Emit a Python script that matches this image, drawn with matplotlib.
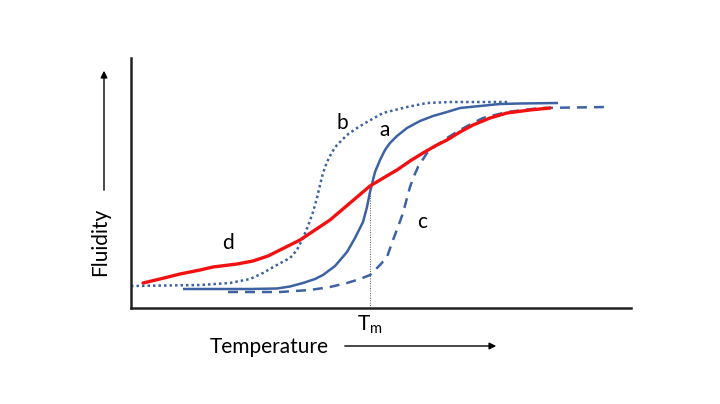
import matplotlib
matplotlib.use("Agg")
import matplotlib.pyplot as plt

plt.rcParams['font.family'] = ['Lato', 'DejaVu Sans']

# Arbitrary units: temperature 0..500, fluidity 0..250
a_x = [52, 119, 146, 159, 172, 184, 192, 204, 216, 224, 232, 236, 239, 241, 244, 249, 254, 259,
       266, 276, 289, 302, 316, 329, 349, 369, 389, 427]
a_y = [19, 19, 19.5, 21.5, 25, 29, 33, 42, 56, 70, 86, 101, 116, 124, 136, 148, 158, 165,
       172, 180, 187, 192, 196, 200, 202, 204, 204.5, 205]

b_x = [0, 69, 99, 119, 132, 144, 159, 166, 172, 177, 182, 186, 189, 192, 196, 201, 206, 216,
       226, 236, 252, 276, 296, 319, 379]
b_y = [22, 23, 25, 29, 35, 42, 50, 58, 70, 82, 96, 110, 123, 135, 146, 156, 163, 173,
       180, 186, 195, 201, 205, 206, 206]

c_x = [97, 149, 179, 199, 216, 229, 239, 249, 256, 262, 267, 272, 276, 279, 283, 287, 296, 306,
       316, 329, 342, 352, 376, 409, 476]
c_y = [16, 16, 18, 21, 25, 29, 33, 43, 51, 68, 81, 95, 110, 121, 132, 141, 155, 163,
       170, 178, 185, 190, 196, 200, 201]

d_x = [12, 29, 49, 69, 82, 106, 122, 137, 149, 169, 184, 199, 219, 239, 254, 266, 279, 292,
       304, 316, 329, 342, 359, 376, 399, 419]
d_y = [25, 29, 34, 38, 41, 44, 47, 52, 58, 68, 78, 88, 105, 122, 131, 138, 147, 155,
       162, 168, 176, 183, 190, 195, 198, 200]

tm_x = 239
tm_y = 124

labels = ['a', 'b', 'c', 'd']
label_pos = [(254, 178), (211, 185), (291, 86), (97, 65)]

blue = '#3d62a3'
red = '#f21010'

fig = plt.figure(figsize=(7.2, 4.04), dpi=100)
ax = fig.add_axes([131/720, 1-308/404, 500/720, 250/404])
ax.set_xlim(0, 500)
ax.set_ylim(0, 250)
for s in ['top', 'right']:
    ax.spines[s].set_visible(False)
for s in ['left', 'bottom']:
    ax.spines[s].set_linewidth(1.8)
    ax.spines[s].set_color('#222222')
ax.set_xticks([])
ax.set_yticks([])

ax.plot([tm_x, tm_x], [0, tm_y], color='#555555', lw=0.7, linestyle=(0, (1, 1.5)))
ax.plot(b_x, b_y, color=blue, lw=1.8, linestyle=(0, (1, 1.2)))
ax.plot(c_x, c_y, color=blue, lw=1.8, linestyle=(0, (4, 2.8)))
ax.plot(a_x, a_y, color=blue, lw=1.8, solid_capstyle='butt', solid_joinstyle='round')
ax.plot(d_x, d_y, color=red, lw=2.4, solid_capstyle='round', solid_joinstyle='round')

for lab, (x, y) in zip(labels, label_pos):
    ax.text(x, y, lab, fontsize=15, ha='center', va='center', color='black')

ax.text(tm_x, -17, r'$\mathregular{T_m}$', fontsize=15, ha='center', va='center',
        clip_on=False)

# Axis titles with arrows
fig.text(100/720, 1-242/404, 'Fluidity', rotation=90, fontsize=15, ha='center', va='center')
fig.patches.append(matplotlib.patches.FancyArrowPatch(
    (104/720, 1-193/404), (104/720, 1-68/404), transform=fig.transFigure,
    arrowstyle='-|>', mutation_scale=10, lw=1.0, color='black'))
fig.text(269/720, 1-347/404, 'Temperature', fontsize=15, ha='center', va='center')
fig.patches.append(matplotlib.patches.FancyArrowPatch(
    (342/720, 1-346/404), (499/720, 1-346/404), transform=fig.transFigure,
    arrowstyle='-|>', mutation_scale=10, lw=1.0, color='black'))

fig.savefig('out.png', dpi=100)
